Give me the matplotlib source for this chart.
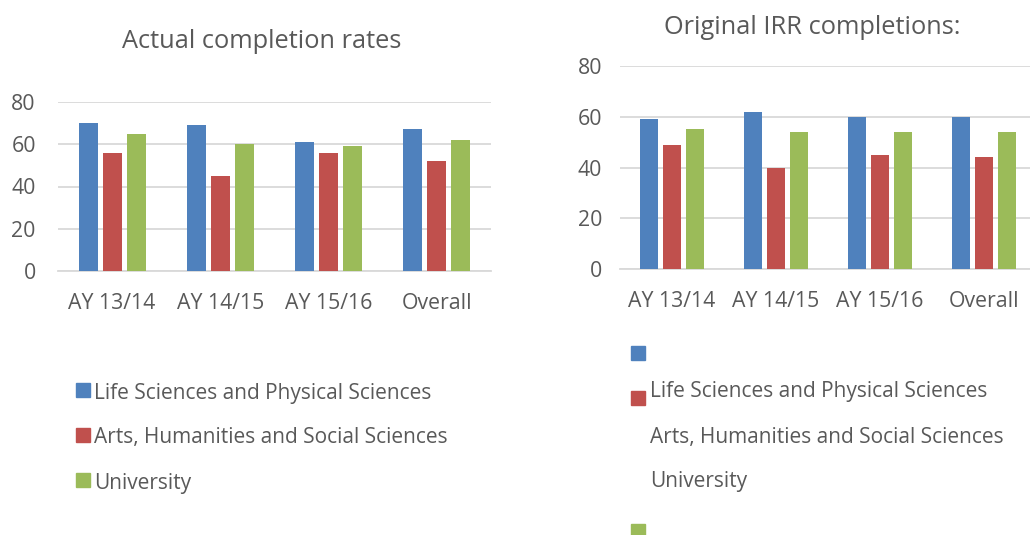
import matplotlib
matplotlib.use("Agg")
import matplotlib.pyplot as plt
from matplotlib.patches import Rectangle
import numpy as np

categories = ["AY 13/14", "AY 14/15", "AY 15/16", "Overall"]
series_names = ["Life Sciences and Physical Sciences",
                "Arts, Humanities and Social Sciences",
                "University"]
actual_life = [70, 69, 61, 67]
actual_arts = [56, 45, 56, 52]
actual_univ = [65, 60, 59, 62]
irr_life = [59, 62, 60, 60]
irr_arts = [49, 40, 45, 44]
irr_univ = [55, 54, 54, 54]

colors = ["#4F81BD", "#C0504D", "#9BBB59"]
txt = "#595959"
grid = "#D9D9D9"

plt.rcParams['font.family'] = ['Open Sans', 'DejaVu Sans']

fig = plt.figure(figsize=(10.3, 5.35), dpi=100)
W, H = 1030, 535
TICK_FS = 15.3
LEG_FS = 15
TITLE_FS = 18.3

def px_axes(x0, y0, x1, y1):
    return fig.add_axes([x0 / W, 1 - y1 / H, (x1 - x0) / W, (y1 - y0) / H])

def draw(ax, data, width, offs):
    x = np.arange(len(categories))
    for i, (vals, c) in enumerate(zip(data, colors)):
        ax.bar(x + (i - 1) * offs, vals, width=width, color=c, label=series_names[i], zorder=3)
    ax.set_xlim(-0.5, len(categories) - 0.5)
    ax.set_ylim(0, 80)
    ax.set_yticks([0, 20, 40, 60, 80])
    ax.set_xticks(x)
    ax.set_xticklabels(categories)
    ax.yaxis.grid(True, color=grid, linewidth=1.3, zorder=0)
    ax.set_axisbelow(True)
    for s in ["top", "right", "left"]:
        ax.spines[s].set_visible(False)
    ax.spines["bottom"].set_color(grid)
    ax.spines["bottom"].set_linewidth(1.3)
    ax.tick_params(axis="both", length=0, labelsize=TICK_FS, labelcolor=txt)
    ax.tick_params(axis="x", pad=16)

ax1 = px_axes(58, 102, 491, 271)
draw(ax1, [actual_life, actual_arts, actual_univ], 0.176, 0.222)
ax1.tick_params(axis="y", pad=16)
fig.text(262 / W, 1 - 41 / H, "Actual completion rates", ha="center", va="center",
         fontsize=TITLE_FS, color=txt)

ax2 = px_axes(620, 66, 1036, 269)
draw(ax2, [irr_life, irr_arts, irr_univ], 0.173, 0.22)
ax2.tick_params(axis="y", pad=13)
fig.text(812 / W, 1 - 27 / H, "Original IRR completions:", ha="center", va="center",
         fontsize=TITLE_FS, color=txt)

# left legend
for i, (name, c) in enumerate(zip(series_names, colors)):
    yc = 390 + 45 * i
    fig.patches.append(Rectangle((76 / W, 1 - (yc + 7) / H), 14 / W, 14 / H,
                                 transform=fig.transFigure, color=c))
    fig.text(94 / W, 1 - (yc + 3) / H, name, ha="left", va="center", fontsize=LEG_FS, color=txt)

# right legend (misaligned as in the reference)
for yc, c in zip([353, 398, 531], colors):
    fig.patches.append(Rectangle((631 / W, 1 - (yc + 7) / H), 14 / W, 14 / H,
                                 transform=fig.transFigure, color=c))
for yc, name in zip([388, 434, 479], series_names):
    fig.text(650 / W, 1 - (yc + 3) / H, name, ha="left", va="center", fontsize=LEG_FS, color=txt)

fig.savefig("out.png", dpi=100)
